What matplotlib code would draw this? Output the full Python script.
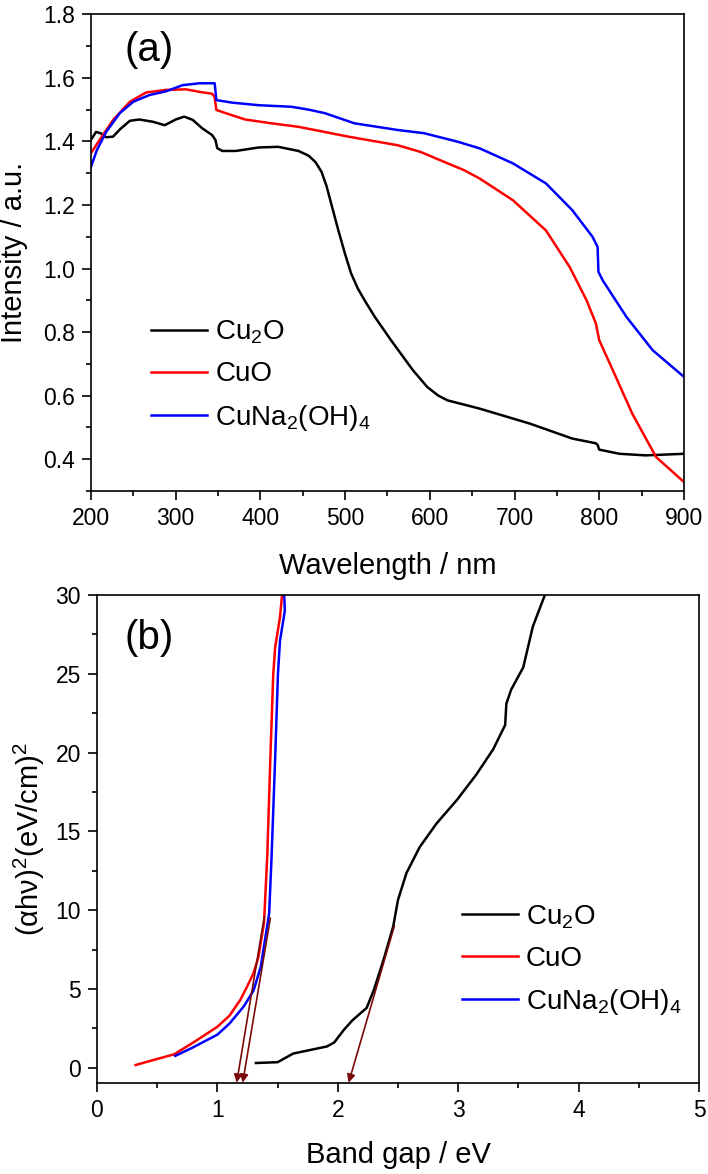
import numpy as np
import matplotlib
matplotlib.use('Agg')
from matplotlib import pyplot as plt
from matplotlib.ticker import MultipleLocator

plt.rcParams['font.family'] = ['Liberation Sans', 'DejaVu Sans']
plt.rcParams['mathtext.fontset'] = 'custom'
plt.rcParams['mathtext.rm'] = 'Liberation Sans'
plt.rcParams['mathtext.it'] = 'Liberation Sans:italic'
plt.rcParams['axes.linewidth'] = 1.2

# (a) 漫反射光谱
wl_cu2o = [200, 206, 212, 218, 226, 235, 246, 257, 273, 287, 300, 310, 320, 331, 343, 347,
           349, 355, 371, 398, 421, 445, 457, 465, 472, 478, 484, 492, 500, 507, 515, 523,
           535, 554, 580, 597, 610, 621, 659, 718, 768, 796, 798, 800, 824, 855, 900]
int_cu2o = [1.405, 1.43, 1.425, 1.413, 1.415, 1.44, 1.465, 1.469, 1.462, 1.451, 1.469, 1.478,
            1.468, 1.442, 1.42, 1.404, 1.379, 1.37, 1.37, 1.381, 1.383, 1.37, 1.355, 1.335,
            1.305, 1.26, 1.2, 1.12, 1.045, 0.985, 0.937, 0.90, 0.848, 0.775, 0.68, 0.627,
            0.60, 0.585, 0.559, 0.512, 0.465, 0.45, 0.445, 0.43, 0.417, 0.412, 0.417]

wl_cuo = [200, 210, 226, 246, 265, 288, 312, 328, 343, 346, 348, 359, 382, 413, 445, 504,
          562, 589, 621, 640, 659, 698, 737, 765, 785, 796, 798, 800, 816, 839, 867, 900]
int_cuo = [1.363, 1.404, 1.467, 1.525, 1.554, 1.562, 1.564, 1.556, 1.55, 1.539, 1.499, 1.489,
           1.469, 1.457, 1.446, 1.415, 1.388, 1.367, 1.331, 1.31, 1.283, 1.215, 1.12, 1.005,
           0.90, 0.827, 0.80, 0.774, 0.68, 0.543, 0.407, 0.328]

wl_cuna = [200, 207, 218, 234, 250, 269, 289, 308, 328, 346, 348, 367, 398, 437, 457, 476,
           511, 562, 593, 633, 659, 698, 737, 768, 792, 798, 799, 804, 832, 863, 900]
int_cuna = [1.32, 1.373, 1.43, 1.489, 1.525, 1.546, 1.558, 1.577, 1.583, 1.583, 1.53, 1.522,
            1.514, 1.509, 1.50, 1.489, 1.457, 1.436, 1.426, 1.399, 1.378, 1.331, 1.268, 1.184,
            1.10, 1.068, 0.99, 0.963, 0.848, 0.743, 0.659]

# (b) Tauc 图
e_cu2o = [1.32, 1.5, 1.63, 1.91, 1.97, 2.05, 2.12, 2.24, 2.30, 2.38, 2.46, 2.50, 2.57, 2.68,
          2.82, 2.99, 3.15, 3.29, 3.39, 3.40, 3.44, 3.54, 3.62, 3.72]
a_cu2o = [0.3, 0.35, 0.9, 1.35, 1.6, 2.4, 3.0, 3.8, 4.95, 6.85, 8.96, 10.65, 12.35, 14.0,
          15.5, 17.0, 18.6, 20.2, 21.75, 23.1, 24.0, 25.4, 28.0, 30.0]

e_cuo = [0.32, 0.45, 0.64, 0.8, 1.0, 1.1, 1.19, 1.25, 1.30, 1.34, 1.387, 1.414, 1.44, 1.464,
         1.48, 1.52, 1.537]
a_cuo = [0.17, 0.45, 0.85, 1.6, 2.6, 3.3, 4.3, 5.2, 6.0, 7.0, 9.2, 13.4, 19.7, 25.0, 26.7,
         28.6, 30.0]

e_cuna = [0.65, 0.8, 1.0, 1.1, 1.22, 1.30, 1.36, 1.43, 1.45, 1.48, 1.503, 1.52, 1.56, 1.555]
a_cuna = [0.75, 1.3, 2.1, 2.8, 3.9, 4.9, 6.4, 9.8, 13.4, 19.7, 25.0, 27.1, 29.0, 30.0]

# 切线（起点 -> 箭头）
tan_x0 = [1.39, 1.44, 2.47]
tan_y0 = [9.6, 9.5, 9.0]
tan_x1 = [1.16, 1.21, 2.09]
tan_y1 = [-0.95, -0.95, -0.95]

labels = ['Cu$_2$O', 'CuO', 'CuNa$_2$(OH)$_4$']
colors = ['black', 'red', 'blue']

fig = plt.figure(figsize=(7.08, 11.74), dpi=100)

ax1 = fig.add_axes([0.1285, 0.5818, 0.8376, 0.4060])
ax1.plot(wl_cu2o, int_cu2o, color=colors[0], lw=1.8, label=labels[0])
ax1.plot(wl_cuo, int_cuo, color=colors[1], lw=1.8, label=labels[1])
ax1.plot(wl_cuna, int_cuna, color=colors[2], lw=1.8, label=labels[2])
ax1.set_xlim(200, 900)
ax1.set_ylim(0.3, 1.8)
ax1.xaxis.set_major_locator(MultipleLocator(100))
ax1.xaxis.set_minor_locator(MultipleLocator(50))
ax1.yaxis.set_minor_locator(MultipleLocator(0.1))
ax1.set_yticks([0.4, 0.6, 0.8, 1.0, 1.2, 1.4, 1.6, 1.8])
ax1.set_xlabel('Wavelength / nm', fontsize=21, labelpad=16)
ax1.set_ylabel('Intensity / a.u.', fontsize=21, labelpad=11)
ax1.text(0.057, 0.925, '(a)', transform=ax1.transAxes, fontsize=29, va='center', ha='left')
ax1.legend(loc='upper left', bbox_to_anchor=(0.083, 0.385), frameon=False, fontsize=20,
           handlelength=2.0, handletextpad=0.3, labelspacing=0.55, borderaxespad=0)

ax2 = fig.add_axes([0.137, 0.0771, 0.8503, 0.4161])
ax2.plot(e_cu2o, a_cu2o, color=colors[0], lw=1.8, label=labels[0])
ax2.plot(e_cuo, a_cuo, color=colors[1], lw=1.8, label=labels[1])
ax2.plot(e_cuna, a_cuna, color=colors[2], lw=1.8, label=labels[2])
for i in range(len(tan_x0)):
    ax2.annotate('', xy=(tan_x1[i], tan_y1[i]), xytext=(tan_x0[i], tan_y0[i]),
                 arrowprops=dict(arrowstyle='-|>', color='#7a0a0a', lw=1.2,
                                 mutation_scale=12, shrinkA=0, shrinkB=0),
                 annotation_clip=False)
ax2.set_xlim(0, 5)
ax2.set_ylim(-1, 30)
ax2.xaxis.set_major_locator(MultipleLocator(1))
ax2.xaxis.set_minor_locator(MultipleLocator(0.5))
ax2.yaxis.set_major_locator(MultipleLocator(5))
ax2.yaxis.set_minor_locator(MultipleLocator(2.5))
ax2.set_xlabel('Band gap / eV', fontsize=21, labelpad=13)
ax2.set_ylabel('(αhν)$^2$(eV/cm)$^2$', fontsize=21, labelpad=6)
ax2.text(0.045, 0.912, '(b)', transform=ax2.transAxes, fontsize=29, va='center', ha='left')
ax2.legend(loc='upper left', bbox_to_anchor=(0.588, 0.392), frameon=False, fontsize=20,
           handlelength=2.0, handletextpad=0.3, labelspacing=0.55, borderaxespad=0)

for ax in (ax1, ax2):
    ax.tick_params(which='both', direction='out', top=False, right=False, labelsize=16.5,
                   width=1.2, pad=5)
    ax.tick_params(which='major', length=6.5)
    ax.tick_params(which='minor', length=3.5)

plt.savefig('out.png', dpi=100)
